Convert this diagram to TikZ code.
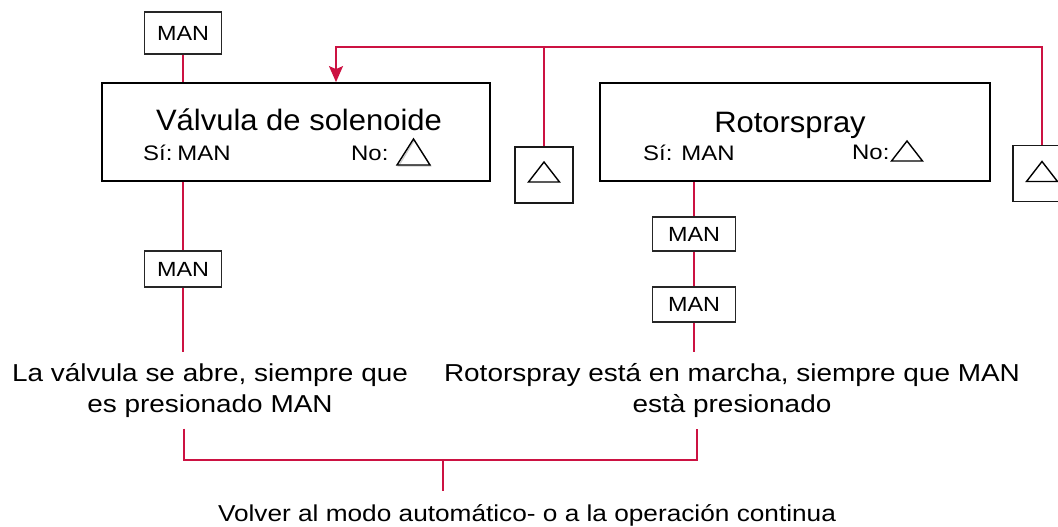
\documentclass[tikz,border=0pt]{standalone}
\usepackage{fontspec}
\setmainfont{Liberation Sans}[FakeStretch=1.14]
\newfontfamily\titlefont{Liberation Sans}[FakeStretch=1.05]
\usetikzlibrary{arrows.meta}
\definecolor{wirecol}{RGB}{204,18,66}
\tikzset{
  bigbox/.style={draw=black, line width=1.8pt, minimum width=388pt, minimum height=98pt, inner sep=0pt},
  manbox/.style={draw=black!85, line width=1.5pt, fill=white, inner sep=0pt, font=\fontsize{20.5}{24}\selectfont},
  tribox/.style={draw=black!90, line width=1.8pt, fill=white, minimum width=58pt, minimum height=56pt, inner sep=0pt},
  wire/.style={draw=wirecol, line width=1.6pt},
  ttl/.style={inner sep=0pt, anchor=base, font=\titlefont\fontsize{29.5}{34}\selectfont},
  inlbl/.style={inner sep=0pt, anchor=base west, font=\fontsize{21}{25}\selectfont},
  desc/.style={inner xsep=0pt, inner ysep=11pt, anchor=north, align=center, font=\fontsize{24.5}{31}\selectfont},
  tri/.pic={\draw[line width=1.4pt, line join=miter] (-15.5,10) -- (15.5,10) -- (0,-10) -- cycle;},
  trib/.pic={\draw[black!20, line width=1.2pt] (-15,14) -- (17,14) -- (1,-12) -- cycle;
             \draw[line width=1.4pt, line join=miter] (-16.5,13) -- (16.5,13) -- (0,-13) -- cycle;}
}
\begin{document}
\begin{tikzpicture}[x=1pt,y=-1pt]
\useasboundingbox (0,0) rectangle (1058,527);
\clip (0,0) rectangle (1058,527);

% main boxes
\node[bigbox] (valve) at (296,132) {};
\node[bigbox, minimum width=390pt] (rotor) at (795,132) {};

% labels inside valve box
\node[ttl] (valvet) at (299,130) {Válvula de solenoide};
\node[inlbl] (valvesi) at (143,160) {Sí:\hspace{5pt}MAN};
\node[inlbl] (valveno) at (351,160) {No:};
\pic at (413.5,152) {trib};

% labels inside rotor box
\node[ttl] (rotort) at (790,132) {Rotorspray};
\node[inlbl] (rotorsi) at (643,160) {Sí: MAN};
\node[inlbl] (rotorno) at (852,159) {No:};
\pic at (907,151) {tri};

% MAN buttons
\node[manbox, minimum width=77pt, minimum height=42pt] (man1) at (183,33) {MAN};
\node[manbox, minimum width=77pt, minimum height=36pt] (man2) at (183,269) {MAN};
\node[manbox, minimum width=83pt, minimum height=34pt] (man3) at (694,234) {MAN};
\node[manbox, minimum width=83pt, minimum height=35pt] (man4) at (694,304.5) {MAN};

% triangle buttons
\node[tribox] (tri1) at (544,175) {};
\pic at (544,172) {tri};
\node[tribox] (tri2) at (1042,173.5) {};
\pic at (1042,171.5) {tri};

% descriptions
\node[desc] (desc1) at (210,352) {La válvula se abre, siempre que\\es presionado MAN};
\node[desc] (desc2) at (732,352) {Rotorspray está en marcha, siempre que MAN\\està presionado};
\node[inner xsep=0pt, inner ysep=13pt, anchor=north, font=\fontsize{23}{28}\selectfont] (back) at (527,491) {Volver al modo automático- o a la operación continua};

% coordinates of the wire corners
\coordinate (tl) at (336,47);
\coordinate (jl) at (184,460);
\coordinate (jr) at (697,460);
\coordinate (jm) at (443,460);

% connectors
\draw[wire] (man1.south) -- (man1.south |- valve.north);
\draw[wire] (man2.north |- valve.south) -- (man2.north);
\draw[wire] (man2.south) -- (man2.south |- desc1.north);
\draw[wire] (man3.north |- rotor.south) -- (man3.north);
\draw[wire] (man3.south) -- (man4.north);
\draw[wire] (man4.south) -- (man4.south |- desc2.north);
\draw[wire, -{Stealth[length=16pt, width=14pt, inset=3pt]}]
  (tri2.north) -- (tri2.north |- tl) -- (tl) -- (tl |- valve.north);
\draw[wire] (tri1.north) -- (tri1.north |- tl);
\draw[wire] (desc1.south -| jl) -- (jl) -- (jr) -- (desc2.south -| jr);
\draw[wire] (jm) -- (back.north -| jm);
\end{tikzpicture}
\end{document}
